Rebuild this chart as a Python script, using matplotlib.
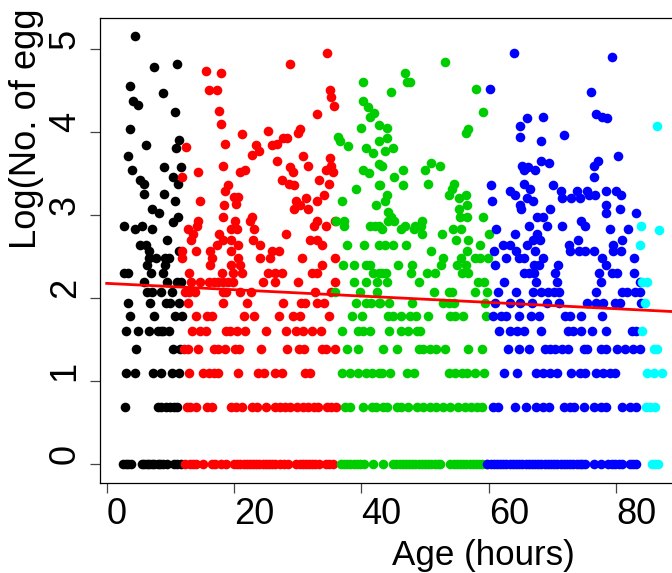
import numpy as np
import matplotlib
matplotlib.use("Agg")
import matplotlib.pyplot as plt

plt.rcParams.update({
    "font.family": ["Liberation Sans", "DejaVu Sans"],
    "font.size": 26,
})

# lower part of the plot: ages listed per discrete log(count) level
black_rows = {
    0.0: [2.6, 3.0, 3.4, 3.9, 5.5, 5.9, 6.3, 6.7, 7.1, 7.5, 8.0, 8.4, 8.9, 9.4, 10.6, 11.1, 11.7],
    0.693: [2.9, 8.0, 8.6, 9.3, 10.0, 10.5, 11.0],
    1.099: [3.0, 4.5, 7.2, 8.5, 10.2, 11.3],
    1.386: [4.6, 10.4, 11.5],
    1.609: [3.0, 5.0, 6.7, 8.1, 8.5, 8.9, 9.8],
    1.792: [3.6, 7.4, 10.7, 11.8],
    1.946: [3.3, 6.8, 9.3, 9.9, 11.3],
    2.079: [6.4, 7.1, 8.6, 10.2],
    2.197: [5.9, 9.4, 11.0, 11.6],
    2.303: [2.8, 3.4, 6.9, 8.8],
    2.398: [6.3, 9.2],
    2.485: [6.7, 7.7, 9.2, 9.8],
    2.565: [6.7, 11.4],
    2.639: [5.2, 6.2],
    2.708: [9.4],
    2.833: [4.4, 7.1],
}
red_rows = {
    0.0: [12.3, 13.1, 13.6, 14.1, 15.2, 16.5, 17.0, 18.0, 18.7, 20.0, 20.5, 21.0, 21.5, 22.0, 22.5, 23.0,
          23.5, 24.0, 24.5, 25.0, 25.5, 26.0, 26.5, 27.2, 27.9, 28.5, 29.8, 30.3, 30.8, 31.3, 31.8,
          32.3, 32.8, 33.3, 34.4, 35.0, 35.5],
    0.693: [12.6, 13.1, 14.0, 15.8, 16.5, 19.6, 20.3, 21.3, 22.9, 23.6, 25.0, 26.4, 27.2, 28.0, 28.8,
            29.9, 30.9, 31.7, 32.5, 33.2, 34.6, 35.3, 36.0],
    1.099: [13.0, 15.2, 16.0, 16.8, 17.5, 20.6, 23.7, 24.7, 26.4, 27.5, 31.2, 31.9],
    1.386: [12.2, 12.8, 14.4, 16.8, 17.5, 18.6, 20.1, 20.8, 24.3, 28.4, 30.2, 31.0, 33.8, 34.5, 35.9],
    1.609: [13.4, 14.7, 15.6, 18.7, 19.3, 20.5, 21.8, 25.1, 28.1, 29.8, 30.9, 32.2, 33.7],
    1.792: [14.1, 15.7, 16.6, 21.6, 23.2, 27.1, 29.2, 30.3, 34.9],
    1.946: [12.8, 18.3, 22.1, 27.7, 30.5, 31.2, 33.0, 34.1],
    2.079: [12.3, 13.0, 13.9, 18.2, 18.7, 20.9, 22.7, 32.8, 35.3],
    2.197: [13.2, 14.6, 16.0, 16.8, 17.5, 18.3, 19.1, 19.8, 24.6, 26.5, 30.1, 35.9],
    2.303: [13.0, 18.1, 19.9, 21.2, 25.3, 26.4, 27.6, 32.2, 33.1],
    2.398: [16.2, 19.5, 21.0, 33.9],
    2.485: [11.8, 16.5, 20.7, 24.1, 25.6, 30.7, 35.9],
    2.565: [11.8, 14.1, 16.3, 19.6, 25.9, 27.1],
    2.639: [17.4, 20.6, 24.1, 33.9],
    2.708: [13.2, 18.2, 19.6, 23.0, 31.9, 33.0],
    2.773: [13.6, 17.7, 28.1],
    2.833: [12.7, 19.5, 20.4, 23.1],
}
green_rows = {
    0.0: [36.8, 37.3, 37.8, 38.3, 38.8, 39.3, 39.8, 40.4, 41.9, 43.4, 45.0, 45.5, 46.0, 46.5, 47.0, 47.5,
          48.0, 48.5, 49.0, 49.5, 50.0, 50.5, 51.0, 51.5, 52.0, 52.4, 54.0, 54.5, 55.0, 55.5, 56.0, 56.5,
          57.0, 57.5, 58.0, 58.5, 59.0, 59.7],
    0.693: [37.4, 38.2, 40.2, 41.6, 42.3, 43.4, 44.0, 45.6, 46.3, 47.4, 48.8, 49.7, 50.8, 51.8, 52.9,
            53.9, 55.2, 56.3, 57.3, 58.1, 58.9],
    1.099: [36.9, 38.2, 39.5, 40.8, 41.6, 42.8, 43.2, 44.5, 47.1, 48.2, 53.7, 54.7, 55.8, 56.6, 57.9, 59.3],
    1.386: [37.8, 39.4, 43.4, 45.6, 49.0, 49.7, 50.8, 51.8, 53.1, 56.8, 59.0],
    1.609: [36.9, 39.4, 40.2, 41.3, 44.3, 46.3, 47.4, 48.7, 49.2],
    1.792: [38.6, 40.1, 44.2, 44.9, 46.3, 47.7, 48.6, 50.5, 53.9, 54.7, 56.0, 59.6],
    1.946: [39.1, 40.7, 41.5, 42.7, 42.9, 44.3, 47.9, 52.9, 53.7, 54.5, 59.4],
    2.079: [35.9, 39.8, 42.5, 51.4, 53.7, 54.3, 57.9, 59.8],
    2.197: [38.9, 40.8, 42.4, 44.1, 49.1, 58.4, 59.2],
    2.303: [41.9, 42.7, 43.2, 43.9, 47.8, 50.3, 51.6, 55.8, 56.8],
    2.398: [37.1, 38.8, 40.8, 41.4, 45.8, 47.9, 52.5, 55.1, 56.4],
    2.485: [52.9, 55.6, 57.9, 58.6, 59.9],
    2.565: [50.9, 56.6],
    2.639: [37.7, 40.4, 42.7, 43.7, 45.0, 47.0, 58.6],
    2.708: [54.9, 56.8],
    2.773: [49.5, 52.6, 60.0],
    2.833: [43.2, 46.3, 48.2, 54.4, 55.7],
}
blue_rows = {
    0.0: [59.8, 60.3, 60.8, 61.3, 61.8, 62.3, 62.8, 63.3, 63.8, 64.3, 64.8, 65.3, 65.8, 66.3, 66.8, 67.3,
          67.8, 68.3, 68.8, 69.3, 69.8, 70.3, 70.8, 71.3, 71.8, 72.3, 72.8, 73.3, 73.8, 74.3, 74.7, 75.1,
          76.6, 77.6, 78.8, 79.3, 79.8, 80.4, 80.9, 82.2, 82.7, 83.2],
    0.693: [60.7, 61.5, 64.1, 65.9, 67.5, 68.6, 69.5, 71.9, 72.8, 73.4, 74.9, 76.5, 77.7, 78.4, 80.9, 82.2, 83.1],
    1.099: [62.4, 64.5, 67.5, 68.6, 69.6, 70.7, 73.0, 74.3, 75.1, 76.9, 77.9, 79.0, 79.8],
    1.386: [63.1, 64.7, 66.3, 68.9, 69.6, 70.4, 71.5, 72.4, 74.9, 75.5, 77.6, 78.5, 80.1, 81.4, 82.7, 83.8],
    1.609: [61.7, 63.3, 64.4, 65.6, 68.3, 72.4, 73.2, 74.5, 76.2, 78.4, 82.5, 83.1],
    1.792: [60.7, 62.0, 62.7, 64.7, 66.6, 67.9, 72.0, 72.8, 74.5, 77.8],
    1.946: [61.0, 63.3, 65.0, 66.8, 69.1, 71.0, 75.4, 76.9, 77.9, 79.8, 80.6, 84.0],
    2.079: [61.5, 64.3, 66.9, 68.3, 69.4, 70.2, 71.0, 76.8, 80.9, 81.7, 83.0, 83.7],
    2.197: [62.4, 67.5, 70.8, 77.6, 83.8],
    2.303: [65.5, 66.3, 67.1, 70.5, 77.3, 79.3, 80.2, 82.9],
    2.398: [61.0, 67.1, 67.9, 70.9, 78.4],
    2.485: [62.7, 64.7, 65.6, 68.5, 77.8, 82.8],
    2.565: [60.9, 64.3, 67.3, 72.8, 74.2, 75.1, 76.6, 79.5, 80.8],
    2.639: [62.2, 63.3, 66.1, 72.6, 79.5],
    2.708: [67.0, 68.1, 74.0, 81.0],
    2.773: [64.2, 67.6],
    2.833: [61.2, 79.1, 81.9],
}
cyan_rows = {
    0.0: [85.6, 86.1, 86.6],
    0.693: [84.7, 85.3, 86.1],
    1.099: [84.9, 86.0, 87.3],
    1.386: [85.9, 86.5],
    1.609: [84.1],
    1.946: [84.5],
    2.197: [84.1, 84.9],
}

# upper part: scattered points
black_age = [4.45, 7.43, 11.1, 3.61, 8.85, 4.08, 4.87, 10.73, 3.61, 11.4, 10.9, 6.18, 3.3, 3.93, 9.0, 11.6,
             10.4, 5.24, 5.86, 11.15, 5.86, 9.0, 10.73, 7.07, 8.22, 11.26, 10.47, 2.67, 5.5]
black_log = [5.16, 4.79, 4.82, 4.56, 4.47, 4.38, 4.33, 4.25, 4.04, 3.91, 3.81, 3.85, 3.71, 3.55, 3.58, 3.58,
             3.46, 3.43, 3.38, 3.38, 3.26, 3.26, 3.17, 3.08, 3.03, 2.98, 2.92, 2.87, 2.87]

red_age = [34.55, 28.74, 15.65, 17.9, 16.0, 17.3, 35.1, 35.3, 35.65, 17.6, 33.0, 17.9, 21.2, 25.3, 30.3, 30.1,
           27.7, 28.4, 18.6, 23.4, 25.9, 26.7, 23.9, 22.9, 12.4, 30.8, 26.7, 35.1, 35.3, 34.4, 35.5, 31.6,
           18.3, 28.8, 29.2, 21.8, 20.9, 14.4, 11.8, 27.5, 33.3, 28.6, 29.4, 34.9, 19.0, 18.6, 34.2, 20.0,
           20.7, 31.3, 14.7, 33.1, 29.8, 20.3, 18.5, 30.4, 29.4, 31.7, 18.3, 22.9, 22.5, 20.1, 14.4, 33.1,
           35.9, 14.2, 32.5, 34.5]
red_log = [4.95, 4.82, 4.74, 4.72, 4.51, 4.51, 4.51, 4.42, 4.32, 4.26, 4.22, 4.1, 3.98, 4.02, 4.04, 3.99,
           3.93, 3.93, 3.86, 3.85, 3.85, 3.86, 3.77, 3.73, 3.82, 3.71, 3.66, 3.69, 3.6, 3.55, 3.52, 3.6,
           3.6, 3.58, 3.52, 3.55, 3.52, 3.52, 3.46, 3.43, 3.43, 3.38, 3.36, 3.38, 3.36, 3.29, 3.25, 3.22,
           3.22, 3.21, 3.17, 3.17, 3.17, 3.14, 3.13, 3.13, 3.08, 3.08, 2.98, 2.98, 2.93, 2.93, 2.93, 2.93,
           2.93, 2.87, 2.87, 2.87]

green_age = [40.3, 40.2, 41.0, 42.0, 41.4, 40.0, 42.7, 36.3, 36.6, 37.9, 42.7, 40.8, 41.8, 42.7, 40.2, 41.2,
             42.8, 39.1, 36.9, 42.3, 36.1, 37.3, 37.3, 41.4, 42.1, 42.8, 53.1, 46.8, 47.1, 47.6, 44.6, 58.0,
             59.1, 56.8, 56.4, 44.0, 44.0, 44.9, 43.7, 43.2, 46.5, 45.2, 46.6, 42.9, 50.9, 50.0, 52.3, 50.5,
             54.6, 54.2, 53.8, 44.0, 43.7, 55.3, 56.4, 56.6, 55.3, 44.2, 55.5, 56.6, 59.1, 44.6, 44.2, 45.1,
             49.6, 46.8, 48.5, 49.3]
green_log = [4.6, 4.38, 4.3, 4.23, 4.19, 4.05, 4.09, 3.94, 3.89, 3.84, 3.89, 3.81, 3.75, 3.62, 3.55, 3.51,
             3.36, 3.32, 3.17, 3.13, 2.93, 2.93, 2.87, 2.87, 2.87, 2.87, 4.85, 4.71, 4.61, 4.6, 4.48, 4.52,
             4.25, 4.04, 3.99, 4.05, 3.93, 3.81, 3.78, 3.6, 3.55, 3.46, 3.36, 3.36, 3.63, 3.55, 3.6, 3.38,
             3.38, 3.32, 3.25, 3.25, 3.17, 3.21, 3.25, 3.13, 3.08, 3.04, 2.98, 2.98, 2.98, 2.98, 2.93, 2.93,
             2.93, 2.87, 2.87, 2.87]

blue_age = [64.0, 79.4, 60.2, 76.0, 76.9, 77.8, 78.6, 66.0, 68.6, 64.9, 64.9, 71.8, 68.2, 80.3, 77.1, 76.6,
            68.2, 69.5, 65.2, 65.6, 66.2, 67.3, 76.6, 60.4, 65.6, 66.5, 70.1, 63.3, 64.2, 66.1, 67.0, 71.4,
            71.5, 73.8, 73.0, 74.4, 75.5, 75.8, 76.7, 78.4, 80.0, 80.8, 60.5, 64.9, 65.1, 69.7, 78.5, 78.5,
            80.6, 83.1, 67.6, 68.5, 74.5, 75.1, 66.3, 69.1, 71.6]
blue_log = [4.95, 4.91, 4.52, 4.48, 4.22, 4.19, 4.17, 4.17, 4.18, 4.07, 3.94, 3.97, 3.89, 3.71, 3.66, 3.6,
            3.66, 3.63, 3.6, 3.55, 3.58, 3.55, 3.46, 3.36, 3.38, 3.32, 3.36, 3.29, 3.25, 3.21, 3.17, 3.29,
            3.21, 3.29, 3.21, 3.21, 3.29, 3.25, 3.25, 3.29, 3.29, 3.25, 3.17, 3.13, 3.08, 3.08, 3.13, 3.03,
            3.08, 3.03, 2.98, 2.98, 2.93, 2.87, 2.87, 2.87, 2.87]

cyan_age = [86.8, 84.0, 83.8, 86.4]
cyan_log = [2.82, 2.875, 2.64, 4.07]

line_age = [0.0, 89.0]
line_log = [2.18, 1.84]

x_ticks = [0, 20, 40, 60, 80]
y_ticks = [0, 1, 2, 3, 4, 5]

groups = [
    ("black", black_rows, black_age, black_log),
    ("red", red_rows, red_age, red_log),
    ("#00CD00", green_rows, green_age, green_log),
    ("blue", blue_rows, blue_age, blue_log),
    ("cyan", cyan_rows, cyan_age, cyan_log),
]

W, H = 672, 573
fig = plt.figure(figsize=(W / 100, H / 100), dpi=100)
ax = fig.add_axes([100.3 / W, 1 - 482.5 / H, 1 - 100.3 / W, (482.5 - 18) / H])

for color, rows, ages, logs in groups:
    xs = list(ages)
    ys = list(logs)
    for level, row_ages in rows.items():
        xs += row_ages
        ys += [level] * len(row_ages)
    ax.scatter(xs, ys, s=48, color=color, linewidths=0, zorder=2)

ax.plot(line_age, line_log, color="red", lw=2.0, zorder=3)

ax.set_xlim(-1.0, 88.8)
ax.set_ylim(-0.219, 5.377)
ax.spines["right"].set_visible(False)
for s in ["left", "bottom", "top"]:
    ax.spines[s].set_linewidth(0.9)

ax.set_xticks(x_ticks)
ax.set_yticks(y_ticks)
ax.tick_params(axis="both", length=7.2, width=0.9, color="#444444")
ax.tick_params(axis="x", pad=3)
ax.tick_params(axis="y", pad=5.5)
for lab in ax.get_xticklabels():
    lab.set_ha("left")
for lab in ax.get_yticklabels():
    lab.set_rotation(90)
    lab.set_va("bottom")
    lab.set_ha("right")

fig.text(392.5 / W, 1 - 565 / H, "Age (hours)", fontsize=25.2, ha="left", va="baseline")
fig.text(36 / W, 1 - 249 / H, "Log(No. of egg", fontsize=26.2, rotation=90,
         ha="left", va="baseline", rotation_mode="anchor")

fig.savefig("out.png", dpi=100)
